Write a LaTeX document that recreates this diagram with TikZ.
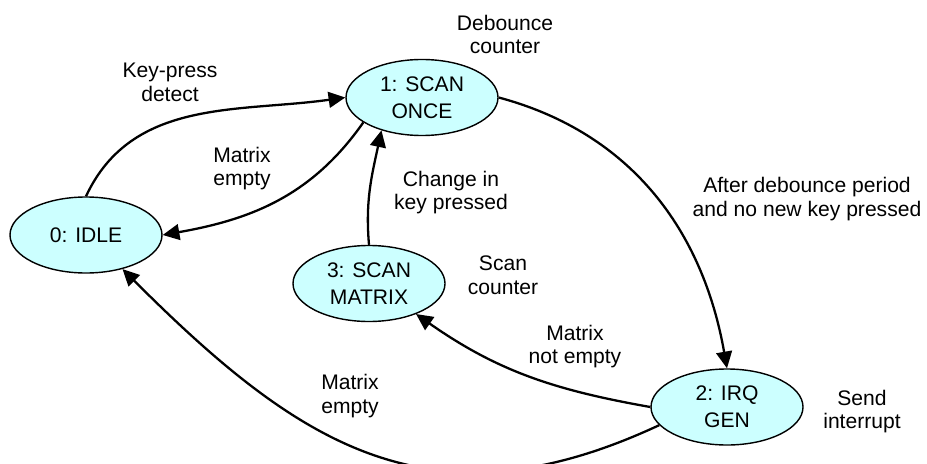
\documentclass[tikz,border=0pt]{standalone}
\usepackage{fontspec}
\setmainfont{Liberation Sans}
\usetikzlibrary{arrows.meta,shapes.geometric}
\definecolor{statefill}{HTML}{CCFFFF}

\begin{document}
\begin{tikzpicture}[>={Triangle[length=9.5pt,width=9pt]},font=\fontsize{12}{13.6}\selectfont,
    state/.style={ellipse,draw,fill=statefill,line width=0.8pt,minimum width=3.04cm,minimum height=1.52cm,
                  inner sep=0pt,align=center,font=\fontsize{12}{15.3}\selectfont},
    tag/.style={align=center,inner sep=1pt},
    edge/.style={->,line width=1.3pt}]
  \useasboundingbox (0,0) rectangle (18.54,9.26);
  \node[state] (idle) at (1.72,4.56) {0: IDLE};
  \node[state] (once) at (8.44,7.31) {1: SCAN\\ONCE};
  \node[state] (matrix) at (7.38,3.59) {3: SCAN\\MATRIX};
  \node[state] (irq) at (14.54,1.12) {2: IRQ\\GEN};
  \draw[edge] (idle.north) to[out=65,in=188] (once.west);
  \draw[edge] (once.203) to[out=235,in=10] (idle.east);
  \draw[edge] (matrix.north) to[out=95,in=258] (once.219);
  \draw[edge] (once.east) to[out=-15,in=100] (irq.north);
  \draw[edge] (irq.west) to[out=170,in=-35] (matrix.-33);
  \draw[edge] (irq.195) to[out=205,in=-45,looseness=1.15] (idle.-43);
  \node[tag] (keypress) at (3.40,7.62) {Key-press\\detect};
  \node[tag] (emptyup) at (4.84,5.89) {Matrix\\empty};
  \node[tag] (debounce) at (10.10,8.57) {Debounce\\counter};
  \node[tag] (change) at (9.02,5.41) {Change in\\key pressed};
  \node[tag] (scancnt) at (10.06,3.76) {Scan\\counter};
  \node[tag] (after) at (16.14,5.28) {After debounce period\\and no new key pressed};
  \node[tag] (notempty) at (11.50,2.33) {Matrix\\not empty};
  \node[tag] (emptylow) at (7.00,1.34) {Matrix\\empty};
  \node[tag] (send) at (17.24,1.03) {Send\\interrupt};
\end{tikzpicture}
\end{document}
